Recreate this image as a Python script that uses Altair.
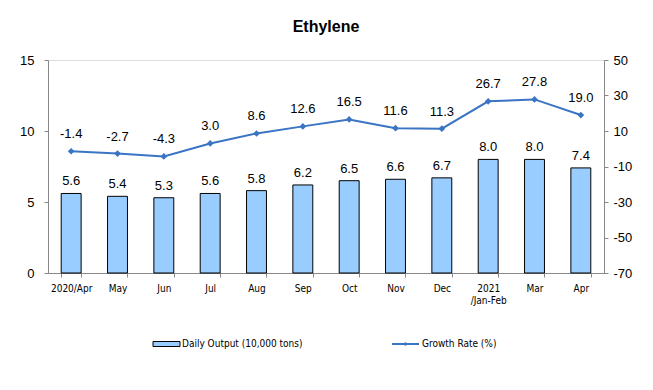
import altair as alt
import pandas as pd

months = ["2020/Apr", "May", "Jun", "Jul", "Aug", "Sep", "Oct", "Nov", "Dec",
          "2021\n/Jan-Feb", "Mar", "Apr"]
output = [5.6, 5.4, 5.3, 5.6, 5.8, 6.2, 6.5, 6.6, 6.7, 8.0, 8.0, 7.4]
growth = [-1.4, -2.7, -4.3, 3.0, 8.6, 12.6, 16.5, 11.6, 11.3, 26.7, 27.8, 19.0]
left_ticks = [0, 5, 10, 15]
right_ticks = [-70, -50, -30, -10, 10, 30, 50]

df = pd.DataFrame({"month": months, "output": output, "growth": growth})
df["output_lbl"] = [f"{v:.1f}" for v in output]
df["growth_lbl"] = [f"{v:.1f}" for v in growth]

BAR = "#99ccff"
LINE = "#3a74c4"
FONT = "Liberation Sans"
NARROW = "DejaVu Sans Condensed"

x = alt.X("month:N", sort=months, scale=alt.Scale(paddingInner=0.57, paddingOuter=0.285),
          axis=alt.Axis(title=None, labelAngle=0, tickBand="extent", tickSize=4,
                        domainColor="#888888", tickColor="#888888",
                        labelFont=NARROW, labelFontSize=10, labelPadding=6,
                        labelExpr="split(datum.label, '\\n')", labelColor="#000000"))

base = alt.Chart(df).encode(x=x)

lscale = alt.Scale(domain=[0, 15], nice=False, zero=False)
rscale = alt.Scale(domain=[-70, 50], nice=False, zero=False)

laxis = alt.Axis(title=None, values=left_ticks, grid=False, tickSize=4,
                 domainColor="#888888", tickColor="#888888", labelFont=FONT,
                 labelFontSize=13, labelPadding=10, labelColor="#000000",
                 labelOverlap=False)
raxis = alt.Axis(title=None, orient="right", values=right_ticks,
                 grid=False, tickSize=4, domainColor="#888888", tickColor="#888888",
                 labelFont=FONT, labelFontSize=13, labelPadding=5, labelColor="#000000",
                 labelOverlap=False, labelFlush=False, labelBound=False,
                 labelExpr="datum.value < 0 ? '-' + abs(datum.value) : '' + datum.value")

bars = base.mark_bar(color=BAR, stroke="#000000", strokeWidth=1).encode(
    y=alt.Y("output:Q", scale=lscale, axis=laxis))
bar_text = base.mark_text(dy=-12, font=FONT, fontSize=13, color="#000000").encode(
    y=alt.Y("output:Q", scale=lscale, axis=laxis), text=alt.Text("output_lbl:N"))
left = alt.layer(bars, bar_text)

line = base.mark_line(color=LINE, strokeWidth=2,
                      point=alt.OverlayMarkDef(shape="diamond", size=45, filled=True, color=LINE)
                      ).encode(y=alt.Y("growth:Q", scale=rscale, axis=raxis))
line_text = base.mark_text(dy=-17, font=FONT, fontSize=13, color="#000000").encode(
    y=alt.Y("growth:Q", scale=rscale, axis=raxis), text=alt.Text("growth_lbl:N"))
right = alt.layer(line, line_text)

leg = pd.DataFrame({"a": [0]})
leg_bar = alt.Chart(leg).mark_rect(fill=BAR, stroke="#000000", strokeWidth=1).encode(
    x=alt.value(105), x2=alt.value(132), y=alt.value(281.5), y2=alt.value(286.5))
leg_bar_t = alt.Chart(leg).mark_text(align="left", baseline="middle", font=NARROW,
                                     fontSize=10, color="#000000").encode(
    x=alt.value(134), y=alt.value(284), text=alt.value("Daily Output (10,000 tons)"))
leg_line = alt.Chart(leg).mark_rule(color=LINE, strokeWidth=2).encode(
    x=alt.value(344), x2=alt.value(371), y=alt.value(284))
leg_pt = alt.Chart(leg).mark_point(shape="diamond", size=20, filled=True, color=LINE).encode(
    x=alt.value(357.5), y=alt.value(284))
leg_line_t = alt.Chart(leg).mark_text(align="left", baseline="middle", font=NARROW,
                                      fontSize=10, color="#000000").encode(
    x=alt.value(374), y=alt.value(284), text=alt.value("Growth Rate (%)"))
legend = alt.layer(leg_bar, leg_bar_t, leg_line, leg_pt, leg_line_t)

chart = alt.layer(left, right, legend).resolve_scale(y="independent").properties(
    width=556, height=213,
    autosize=alt.AutoSizeParams(type="none"),
    padding={"left": 40, "top": 52, "right": 41, "bottom": 109},
    title=alt.TitleParams("Ethylene", font=FONT, fontSize=16, fontWeight="bold",
                          anchor="middle", offset=19, color="#000000"),
).configure_view(strokeWidth=0, stroke="transparent").configure(background="#ffffff")

chart.save("out.html", embed_options={"renderer": "svg", "actions": False})
